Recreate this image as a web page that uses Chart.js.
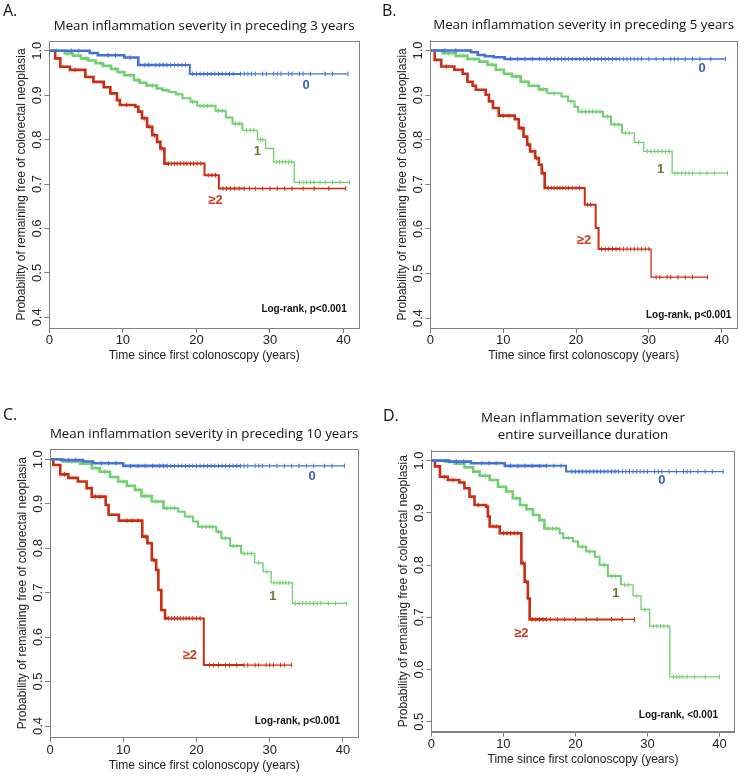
<!DOCTYPE html>
<html>
<head>
<meta charset="utf-8">
<script src="https://cdn.jsdelivr.net/npm/chart.js@4.4.1/dist/chart.umd.min.js"></script>
<style>
  body { margin: 0; background: #ffffff; }
  #wrap { position: relative; width: 746px; height: 776px; }
  canvas { position: absolute; }
</style>
</head>
<body>
<div id="wrap">
  <canvas id="chartA" width="373" height="388" style="left:0;top:0"></canvas>
  <canvas id="chartB" width="373" height="388" style="left:373px;top:0"></canvas>
  <canvas id="chartC" width="373" height="388" style="left:0;top:388px"></canvas>
  <canvas id="chartD" width="373" height="388" style="left:373px;top:388px"></canvas>
</div>
<script>
// ---- Kaplan-Meier step data (time in years, survival), censor times ----

// A: preceding 3 years
const aT0 = [0, 5.5, 6.6, 10.2, 12.1, 19.1];
const aS0 = [1, 0.995, 0.99, 0.985, 0.968, 0.948];
const aC0 = [3, 4, 8, 9, 11, 13, 13.5, 14.5, 15, 15.5, 16, 16.5, 17, 17.5, 18, 18.5, 19.5, 20, 20.5, 21, 21.5, 22, 22.5, 23, 23.5, 24, 24.5, 25, 26, 26.5, 27, 27.5, 28, 29, 29.5, 30.5, 31, 31.5, 32.5, 33, 34, 34.5, 35.5, 37.5, 38.5, 40.6];
const aT1 = [0, 2.1, 3.2, 4.3, 5.3, 6.3, 7.3, 8.4, 9.3, 10.2, 11.5, 12.3, 13.2, 14.6, 15.4, 16.3, 17.2, 18.1, 19.2, 20.1, 22.6, 24.0, 24.9, 26.25, 28.3, 29.4, 30.5, 33.3];
const aS1 = [1, 0.994, 0.989, 0.983, 0.978, 0.972, 0.966, 0.959, 0.952, 0.945, 0.934, 0.928, 0.922, 0.915, 0.911, 0.907, 0.902, 0.893, 0.885, 0.876, 0.865, 0.85, 0.836, 0.821, 0.800, 0.780, 0.750, 0.704];
const aC1 = [1, 2.5, 5, 7, 9, 11, 12, 14, 16, 17.5, 19.5, 20.5, 21, 21.5, 22, 23, 23.5, 25.3, 25.8, 26.8, 27.3, 27.8, 28.7, 29, 30.9, 31.3, 31.7, 32.1, 32.5, 32.9, 34, 34.5, 35, 35.5, 36, 36.8, 37.5, 38.5, 39.5, 40.8];
const aT2 = [0, 0.8, 1.5, 2.8, 4.9, 6.0, 7.4, 8.3, 9.2, 9.6, 11.7, 12.1, 12.6, 13.3, 14.0, 14.65, 15.1, 15.65, 21.1, 23.05];
const aS2 = [1, 0.983, 0.964, 0.957, 0.941, 0.93, 0.918, 0.904, 0.889, 0.878, 0.874, 0.863, 0.848, 0.829, 0.81, 0.795, 0.78, 0.746, 0.72, 0.69];
const aC2 = [3.5, 10.5, 12.9, 13.6, 14.3, 15.3, 16.2, 16.6, 17, 17.4, 17.8, 18.3, 18.7, 19.2, 19.6, 20.1, 20.6, 21.6, 22.1, 22.6, 23.6, 24.1, 24.6, 25.2, 25.8, 26.5, 27.2, 28, 29, 30, 31, 32, 33, 34.5, 36, 38, 40.3];

// B: preceding 5 years
const bT0 = [0, 5.6, 6.5, 7.5, 8.7, 10.2];
const bS0 = [1, 0.996, 0.99, 0.987, 0.985, 0.981];
const bC0 = [2, 3.5, 11, 12, 13, 14, 15, 16, 16.5, 17, 17.5, 18, 18.5, 19, 19.5, 20, 20.5, 21, 21.5, 22, 22.5, 23, 23.5, 24, 24.5, 25, 25.5, 26, 26.5, 27, 27.5, 28, 28.5, 29, 30, 31, 32, 33, 33.5, 34, 35, 36, 37, 38.5, 40.5];
const bT1 = [0, 1.7, 3.5, 5.1, 6.7, 7.85, 9.0, 10.1, 11.2, 12.4, 13.5, 14.9, 16.0, 18.0, 18.9, 19.8, 20.3, 23.7, 24.8, 26.3, 28.0, 29.3, 33.2];
const bS1 = [1, 0.994, 0.988, 0.981, 0.975, 0.968, 0.957, 0.948, 0.942, 0.93, 0.921, 0.913, 0.904, 0.897, 0.886, 0.874, 0.863, 0.852, 0.834, 0.815, 0.794, 0.774, 0.725];
const bC1 = [2.5, 4.5, 6, 8.5, 11.8, 13, 15.5, 17, 19.3, 20.8, 21.3, 21.8, 22.3, 22.8, 23.3, 24.3, 25.3, 25.8, 26.8, 27.3, 28.6, 29.8, 30.3, 30.8, 31.3, 31.8, 32.3, 32.8, 33.6, 34, 34.5, 35, 35.5, 36, 37, 38, 39, 40.8];
const bT2 = [0, 0.6, 1.5, 3.3, 4.45, 5.1, 5.8, 6.25, 7.6, 8.05, 8.6, 9.4, 11.6, 12.15, 12.8, 13.3, 13.7, 14.4, 14.9, 15.3, 15.7, 21.2, 22.7, 23.1, 30.3];
const bS2 = [1, 0.979, 0.964, 0.957, 0.948, 0.93, 0.921, 0.912, 0.901, 0.886, 0.871, 0.854, 0.846, 0.826, 0.807, 0.789, 0.774, 0.759, 0.744, 0.725, 0.692, 0.654, 0.602, 0.555, 0.492];
const bC2 = [2.2, 10, 10.8, 12.5, 13.5, 14.6, 15.5, 16.2, 16.6, 17, 17.4, 17.8, 18.2, 18.6, 19, 19.5, 20, 20.5, 21.6, 22, 23.5, 24, 24.5, 25, 25.5, 26, 26.5, 27, 27.5, 28, 28.5, 29, 29.5, 30, 31, 31.5, 32.5, 33, 34, 35, 36, 38.05];

// C: preceding 10 years
const cT0 = [0, 1.5, 4.5, 5.9, 10.0];
const cS0 = [1, 0.998, 0.995, 0.991, 0.985];
const cC0 = [2.5, 3.5, 7, 8, 9, 11, 12, 13, 14, 15, 15.5, 16, 16.5, 17, 17.5, 18, 18.5, 19, 19.5, 20, 20.5, 21, 21.5, 22, 22.5, 23, 23.5, 24, 24.5, 25, 25.5, 26, 26.5, 27, 28, 28.5, 29, 30, 31, 32, 33, 34, 35, 36, 37.5, 38.5, 40.2];
const cT1 = [0, 1.8, 4.1, 5.7, 6.8, 8.2, 9.3, 10.5, 11.6, 12.5, 13.9, 15.5, 17.5, 18.4, 19.5, 20.2, 22.7, 23.4, 24.6, 26.1, 27.95, 29.1, 30.2, 33.1];
const cS1 = [1, 0.995, 0.99, 0.98, 0.972, 0.96, 0.95, 0.94, 0.931, 0.917, 0.905, 0.89, 0.882, 0.871, 0.86, 0.848, 0.837, 0.822, 0.805, 0.788, 0.767, 0.747, 0.722, 0.676];
const cC1 = [3, 7.5, 10, 13, 14.5, 16, 16.5, 17, 19, 20.8, 21.3, 21.8, 22.2, 23, 24, 25, 25.5, 26.5, 27, 27.5, 28.5, 29.6, 30.6, 31, 31.4, 31.8, 32.2, 32.6, 33.5, 34, 34.5, 35, 35.5, 36, 36.5, 37, 38, 39, 40.5];
const cT2 = [0, 0.45, 1.4, 2.5, 3.8, 5.0, 5.7, 7.6, 8.0, 9.4, 12.6, 13.3, 13.9, 14.5, 14.8, 15.2, 15.7, 21.0];
const cS2 = [1, 0.987, 0.966, 0.958, 0.95, 0.935, 0.916, 0.897, 0.875, 0.862, 0.826, 0.811, 0.773, 0.751, 0.706, 0.661, 0.642, 0.537];
const cC2 = [2, 6.2, 6.8, 10.5, 11.2, 12, 13, 14.2, 16.2, 16.6, 17, 17.4, 17.8, 18.2, 18.6, 19, 19.5, 20, 20.5, 21.8, 22.3, 23, 24, 24.5, 25.5, 26.5, 27, 28, 28.5, 29.5, 30, 30.5, 31.5, 32, 33];

// D: entire surveillance duration
const dT0 = [0, 2.5, 5.5, 10.2, 18.7];
const dS0 = [1, 0.998, 0.995, 0.99, 0.979];
const dC0 = [3.5, 4.5, 7, 8, 9, 11, 12, 13, 14, 15, 16, 17, 18, 19.5, 20, 20.5, 21, 21.5, 22, 22.5, 23, 23.5, 24, 24.5, 25, 25.5, 26, 26.5, 27, 27.5, 28, 28.5, 29, 29.5, 30, 31, 31.5, 32, 33, 34, 35, 35.5, 36, 37, 38, 39, 40.5];
const dT1 = [0, 1.9, 3.25, 4.6, 5.8, 6.7, 8.1, 9.25, 10.4, 11.3, 12.3, 13.2, 14.1, 15.0, 15.7, 17.8, 18.3, 19.65, 20.35, 21.5, 22.7, 23.35, 24.5, 26.3, 28.0, 29.1, 30.3, 33.1];
const dS1 = [1, 0.998, 0.994, 0.987, 0.979, 0.971, 0.963, 0.95, 0.941, 0.928, 0.915, 0.907, 0.896, 0.886, 0.87, 0.861, 0.852, 0.845, 0.835, 0.826, 0.816, 0.80, 0.779, 0.762, 0.741, 0.715, 0.683, 0.586];
const dC1 = [2.5, 7.5, 11.8, 16.3, 16.8, 17.3, 19, 21, 22, 24, 25, 25.5, 26.8, 27.3, 28.5, 29.6, 30.8, 31.3, 31.8, 32.3, 32.8, 33.6, 34, 34.4, 34.8, 35.5, 36.5, 38, 40];
const dT2 = [0, 0.5, 1.2, 2.3, 3.9, 4.6, 5.3, 6.0, 7.6, 7.85, 8.1, 9.5, 12.5, 12.95, 13.4, 13.65];
const dS2 = [1, 0.989, 0.969, 0.963, 0.958, 0.947, 0.931, 0.915, 0.912, 0.893, 0.874, 0.861, 0.803, 0.768, 0.736, 0.696];
const dC2 = [1.8, 3, 6.5, 8.6, 9, 10, 10.5, 11, 11.5, 12, 12.8, 13.2, 14, 14.5, 15, 15.5, 16, 16.5, 17.5, 18.5, 20, 21.5, 23, 25, 26.5, 28.2];

const groupNames = ["0", "1", "\u22652"];
const xTicks = [0, 10, 20, 30, 40];

// ---- styling ----
const lineColors = ["#4472d4", "#70cf70", "#cc2c12"];
const labelColors = ["#3a5fc0", "#6b7a2e", "#cc3a1a"];
const axisColor = "#808080";
const textColor = "#222222";
const sans = "'Liberation Sans', Arial, sans-serif";
const humanist = "'Open Sans', 'Noto Sans', sans-serif";

const panels = [
    {
        id: "chartA", letter: "A.", title: ["Mean inflammation severity in preceding 3 years"],
        yMin: 0.376, yMax: 1.022, pad: { left: 49.3, top: 41, right: 14, xh: 60 },
        curves: [[aT0, aS0, aC0], [aT1, aS1, aC1], [aT2, aS2, aC2]],
        tags: [[34.9, 0.923], [28.3, 0.773], [22.6, 0.664]],
        letterPos: [3, 11], logrank: "Log-rank, p<0.001", lrPos: [346.7, 309.3]
    },
    {
        id: "chartB", letter: "B.", title: ["Mean inflammation severity in preceding 5 years"],
        yMin: 0.378, yMax: 1.022, pad: { left: 57.3, top: 40.7, right: 9, xh: 60 },
        curves: [[bT0, bS0, bC0], [bT1, bS1, bC1], [bT2, bS2, bC2]],
        tags: [[37.3, 0.960], [31.6, 0.734], [21.1, 0.574]],
        letterPos: [9, 11], logrank: "Log-rank, p<0.001", lrPos: [358.3, 315]
    },
    {
        id: "chartC", letter: "C.", title: ["Mean inflammation severity in preceding 10 years"],
        yMin: 0.3746, yMax: 1.023, pad: { left: 50, top: 61, right: 14.7, xh: 38.7 },
        curves: [[cT0, cS0, cC0], [cT1, cS1, cC1], [cT2, cS2, cC2]],
        tags: [[35.8, 0.962], [30.45, 0.692], [19.1, 0.558]],
        letterPos: [3, 27], logrank: "Log-rank, p<0.001", lrPos: [340, 333.7]
    },
    {
        id: "chartD", letter: "D.", title: ["Mean inflammation severity over", "entire surveillance duration"],
        yMin: 0.481, yMax: 1.019, pad: { left: 58.3, top: 62.7, right: 11.3, xh: 44.3 },
        curves: [[dT0, dS0, dC0], [dT1, dS1, dC1], [dT2, dS2, dC2]],
        tags: [[32.0, 0.962], [25.6, 0.746], [12.5, 0.670]],
        letterPos: [10, 28.7], logrank: "Log-rank, <0.001", lrPos: [345, 327]
    }
];

// step points plus censor points (censor takes the survival of the last step before it)
function buildPoints(times, surv, cens) {
    const pts = times.map((t, i) => ({ x: t, y: surv[i], c: false }));
    cens.forEach(c => {
        let k = 0;
        while (k + 1 < times.length && times[k + 1] <= c) k++;
        pts.push({ x: c, y: surv[k], c: true });
    });
    pts.sort((a, b) => a.x - b.x);
    return pts;
}

const decorPlugin = {
    id: "decor",
    afterDraw(chart, args, opts) {
        const p = opts.panel;
        const ctx = chart.ctx;
        const a = chart.chartArea;
        const xs = chart.scales.x;
        const ys = chart.scales.y;
        ctx.save();

        // frame
        ctx.strokeStyle = axisColor;
        ctx.lineWidth = 1;
        ctx.strokeRect(Math.round(a.left) + 0.5, Math.round(a.top) + 0.5,
            Math.round(a.right - a.left), Math.round(a.bottom - a.top));

        // panel letter
        ctx.fillStyle = "#111";
        ctx.font = "16px " + humanist;
        ctx.textAlign = "left";
        ctx.textBaseline = "middle";
        ctx.fillText(p.letter, p.letterPos[0], p.letterPos[1]);

        // title
        ctx.font = "13.3px " + humanist;
        ctx.textAlign = "center";
        const cx = (a.left + a.right) / 2;
        const n = p.title.length;
        p.title.forEach((line, i) => {
            ctx.fillText(line, cx, a.top - 15 - (n - 1 - i) * 17.5);
        });

        // y tick labels (rotated, R style)
        ctx.fillStyle = textColor;
        ctx.font = "13px " + sans;
        ys.ticks.forEach(t => {
            const y = ys.getPixelForValue(t.value);
            ctx.save();
            ctx.translate(a.left - 12, y);
            ctx.rotate(-Math.PI / 2);
            ctx.fillText(t.value.toFixed(1), 0, 0);
            ctx.restore();
        });

        // axis titles
        ctx.font = "12px " + sans;
        ctx.save();
        ctx.translate(a.left - 27.5, (a.top + a.bottom) / 2);
        ctx.rotate(-Math.PI / 2);
        ctx.fillText("Probability of remaining free of colorectal neoplasia", 0, 0);
        ctx.restore();
        ctx.fillText("Time since first colonoscopy (years)", cx, a.bottom + 28);

        // group labels
        ctx.font = "bold 13px " + sans;
        p.tags.forEach((tg, i) => {
            ctx.fillStyle = labelColors[i];
            ctx.fillText(groupNames[i], xs.getPixelForValue(tg[0]), ys.getPixelForValue(tg[1]));
        });

        // log-rank note
        ctx.fillStyle = "#111";
        ctx.font = "bold 10px " + sans;
        ctx.textAlign = "right";
        ctx.fillText(p.logrank, p.lrPos[0], p.lrPos[1]);

        ctx.restore();
    }
};

panels.forEach(p => {
    const datasets = p.curves.map((cv, i) => ({
        label: groupNames[i],
        data: buildPoints(cv[0], cv[1], cv[2]),
        stepped: true,
        borderColor: lineColors[i],
        borderWidth: 2,
        fill: false,
        pointStyle: "line",
        pointRotation: 90,
        pointRadius: ctx => (ctx.raw && ctx.raw.c ? 2.3 : 0),
        pointHoverRadius: 0,
        pointBorderColor: lineColors[i],
        pointBorderWidth: 1,
        segment: {
            borderWidth: ctx => (ctx.p0.parsed.x < 16 ? 2.6 : ctx.p0.parsed.x < 26 ? 2 : 1.3)
        }
    }));

    new Chart(document.getElementById(p.id), {
        type: "line",
        data: { datasets: datasets },
        options: {
            responsive: false,
            animation: false,
            devicePixelRatio: 1,
            layout: { padding: { left: 0, top: p.pad.top, right: p.pad.right, bottom: 0 } },
            plugins: {
                legend: { display: false },
                tooltip: { enabled: false },
                decor: { panel: p }
            },
            scales: {
                x: {
                    type: "linear",
                    min: 0,
                    max: 42.1,
                    afterBuildTicks: s => { s.ticks = xTicks.map(v => ({ value: v })); },
                    afterFit: s => { s.height = p.pad.xh; },
                    ticks: {
                        color: textColor,
                        font: { family: sans, size: 13 },
                        padding: 0,
                        maxRotation: 0,
                        autoSkip: false
                    },
                    grid: { drawOnChartArea: false, tickLength: 5, color: axisColor },
                    border: { color: axisColor }
                },
                y: {
                    min: p.yMin,
                    max: p.yMax,
                    afterFit: s => { s.width = p.pad.left; },
                    ticks: { stepSize: 0.1, includeBounds: false, display: false },
                    grid: { drawOnChartArea: false, tickLength: 5, color: axisColor },
                    border: { color: axisColor }
                }
            }
        },
        plugins: [decorPlugin]
    });
});
</script>
</body>
</html>
